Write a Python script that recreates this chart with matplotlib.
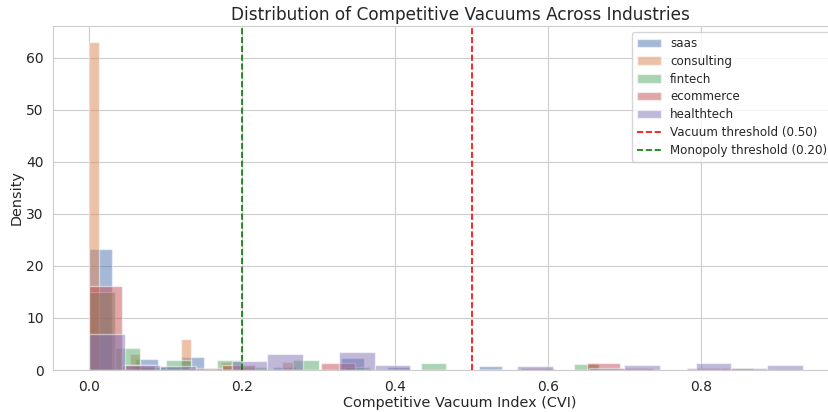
import numpy as np
import matplotlib
matplotlib.use("Agg")
import matplotlib.pyplot as plt
import seaborn as sns
from matplotlib.patches import Patch
from matplotlib.lines import Line2D

# ---- data (density per bin) ----
industries = ["saas", "consulting", "fintech", "ecommerce", "healthtech"]

saas_range = (0.0, 0.60)
saas_density = [23.3, 0, 2.05, 0.67, 2.56, 0, 0, 0, 0.67, 0,
                0, 2.4, 0, 0.67, 0, 0, 0, 0.7, 0, 0]

consulting_range = (0.0, 0.665)
consulting_density = [0.0] * 50
consulting_density[0] = 63.0
consulting_density[4] = 3.0
consulting_density[9] = 6.0
consulting_density[13] = 1.5
consulting_density[19] = 1.5
consulting_density[49] = 1.4

fintech_range = (0.0, 0.667)
fintech_density = [15.0, 4.2, 0.6, 1.9, 0, 1.9, 0.6, 0, 1.9, 0,
                   0.6, 0, 0, 1.25, 0, 0, 0, 0, 0, 1.2]

ecommerce_range = (0.0, 0.868)
ecommerce_density = [16.15, 0.92, 0, 0.46, 0.92, 0, 0, 1.38, 0, 0,
                     0, 0, 0, 0.46, 0, 1.38, 0.46, 0, 0.46, 0.46]

healthtech_range = (0.0, 0.933)
healthtech_density = [6.9, 0.9, 0.8, 0, 1.67, 3.0, 0, 3.4, 0.9, 0,
                      0, 0, 0.7, 0, 0.45, 0.9, 0, 1.35, 0.45, 0.9]

vacuum_threshold = 0.50
monopoly_threshold = 0.20

x_ticks = [0.0, 0.2, 0.4, 0.6, 0.8]
y_ticks = [0, 10, 20, 30, 40, 50, 60]

series = {
    "saas": (saas_range, saas_density),
    "consulting": (consulting_range, consulting_density),
    "fintech": (fintech_range, fintech_density),
    "ecommerce": (ecommerce_range, ecommerce_density),
    "healthtech": (healthtech_range, healthtech_density),
}

sns.set_style("whitegrid")
plt.rcParams["font.family"] = ["DejaVu Sans"]

colors = sns.color_palette("deep", 5)

W, H = 829, 412
fig = plt.figure(figsize=(W / 100, H / 100), dpi=100)
ax_left, ax_right, ax_top, ax_bottom = 53.3, 867.0, 26.0, 370.0
ax = fig.add_axes([ax_left / W, (H - ax_bottom) / H,
                   (ax_right - ax_left) / W, (ax_bottom - ax_top) / H])

handles = []
for name, c in zip(industries, colors):
    (lo, hi), dens = series[name]
    edges = np.linspace(lo, hi, len(dens) + 1)
    centers = (edges[:-1] + edges[1:]) / 2
    ax.hist(centers, bins=edges, weights=dens, alpha=0.5, color=c,
            edgecolor="white", linewidth=1.0, label=name)
    handles.append(Patch(facecolor=c, edgecolor="white", alpha=0.5, label=name))

ax.axvline(vacuum_threshold, color="red", linestyle="--", linewidth=1.2)
ax.axvline(monopoly_threshold, color="green", linestyle="--", linewidth=1.2)
handles.append(Line2D([], [], color="red", linestyle="--", linewidth=1.2,
                      label=f"Vacuum threshold ({vacuum_threshold:.2f})"))
handles.append(Line2D([], [], color="green", linestyle="--", linewidth=1.2,
                      label=f"Monopoly threshold ({monopoly_threshold:.2f})"))

ax.set_xlim(-0.0467, 1.017)
ax.set_ylim(0, 66.15)
ax.set_xticks(x_ticks)
ax.set_yticks(y_ticks)
ax.tick_params(labelsize=10)

ax.set_title("Distribution of Competitive Vacuums Across Industries",
             fontsize=12.2, pad=4)
ax.set_xlabel("Competitive Vacuum Index (CVI)", fontsize=10.4, labelpad=1.5)
ax.set_ylabel("Density", fontsize=10.4, labelpad=2)

ax.legend(handles=handles, loc="upper left", fontsize=8.6, labelspacing=0.4,
          bbox_to_anchor=(632 / W, 1 - 32.3 / H), bbox_transform=fig.transFigure,
          borderaxespad=0)

fig.savefig("out.png", dpi=100)
